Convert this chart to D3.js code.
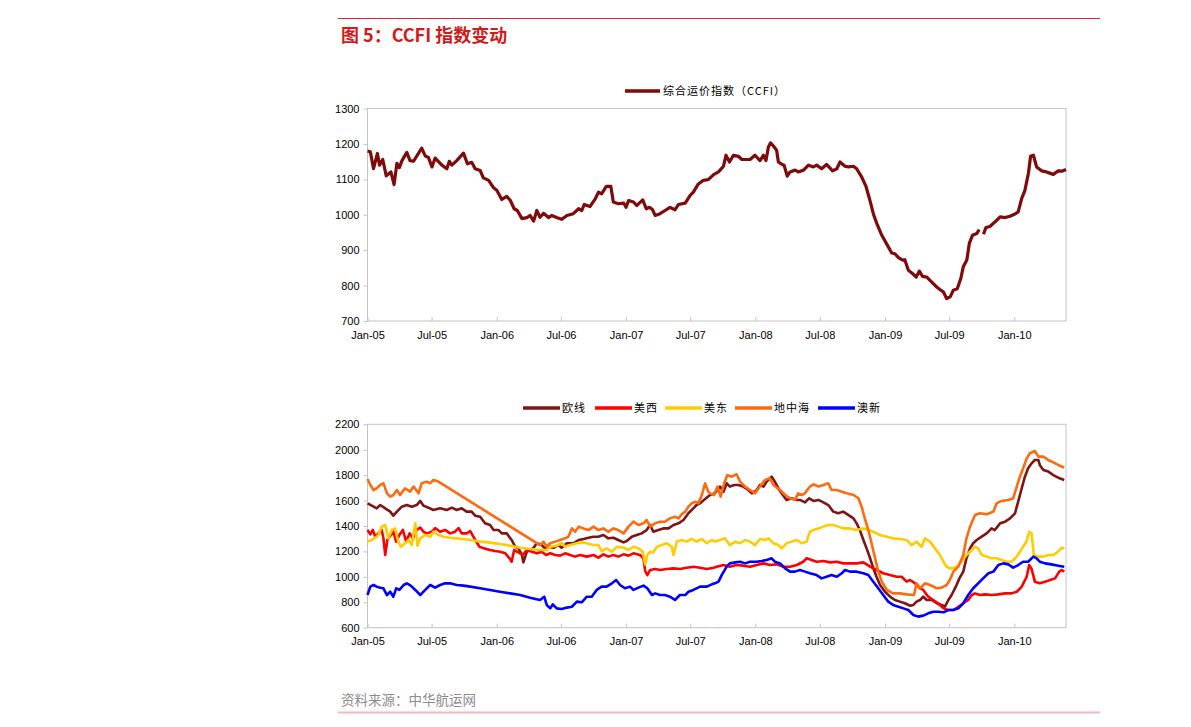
<!DOCTYPE html>
<html><head><meta charset="utf-8">
<script src="https://cdn.jsdelivr.net/npm/d3@7"></script>
<style>
body{margin:0;background:#fff;}
svg{display:block;}
text{font-family:"Liberation Sans",Arial,sans-serif;}
</style></head><body>
<svg id="c" width="1191" height="727"></svg>
<script>
// ---- data (x = days since 2005-01-01, y = index value) ----
const titleText = "图 5：CCFI 指数变动";
const sourceText = "资料来源：中华航运网";
const ccfiName = "综合运价指数（CCFI）";
const seriesNames = ["欧线","美西","美东","地中海","澳新"];
const topTicks = [700,800,900,1000,1100,1200,1300];
const bottomTicks = [600,800,1000,1200,1400,1600,1800,2000,2200];

const ccfi = [[0,1180],[8,1178],[17,1130],[28,1173],[34,1140],[43,1156],[53,1110],[66,1121],[75,1085],[83,1145],[90,1133],[97,1152],[111,1176],[120,1153],[130,1151],[153,1188],[163,1166],[172,1162],[182,1135],[191,1160],[210,1140],[224,1130],[231,1151],[238,1140],[252,1153],[271,1174],[282,1144],[294,1148],[304,1130],[318,1125],[327,1104],[342,1097],[356,1076],[365,1069],[379,1043],[393,1052],[403,1041],[414,1017],[423,1012],[436,989],[450,992],[459,998],[469,982],[478,1012],[487,993],[497,1004],[511,992],[520,998],[534,992],[548,987],[563,998],[581,1003],[596,1017],[605,1012],[612,1029],[628,1023],[643,1045],[652,1064],[661,1059],[674,1080],[687,1080],[694,1036],[708,1031],[723,1033],[730,1021],[737,1040],[751,1036],[760,1026],[777,1042],[787,1017],[796,1021],[805,1014],[812,998],[826,1003],[840,1012],[854,1021],[868,1014],[878,1029],[897,1033],[911,1055],[920,1064],[934,1087],[948,1097],[962,1099],[978,1114],[991,1121],[1005,1137],[1012,1168],[1022,1149],[1033,1168],[1047,1165],[1057,1156],[1080,1156],[1094,1168],[1108,1153],[1118,1168],[1125,1153],[1132,1192],[1138,1203],[1146,1194],[1155,1182],[1160,1149],[1169,1143],[1176,1140],[1185,1109],[1193,1121],[1207,1126],[1216,1121],[1231,1126],[1245,1140],[1259,1135],[1268,1140],[1282,1130],[1296,1142],[1313,1124],[1325,1130],[1334,1149],[1348,1137],[1358,1135],[1372,1137],[1381,1130],[1395,1107],[1407,1081],[1417,1046],[1428,1003],[1438,975],[1452,942],[1466,917],[1480,892],[1489,890],[1499,879],[1511,872],[1517,873],[1527,843],[1541,832],[1549,824],[1558,841],[1567,826],[1579,824],[1593,810],[1607,796],[1616,789],[1626,782],[1635,763],[1645,768],[1654,787],[1665,791],[1675,820],[1682,853],[1692,872],[1699,919],[1708,942],[1720,947],[1727,958],[1733,null],[1739,945],[1746,964],[1757,967],[1772,980],[1786,994],[1800,992],[1814,996],[1828,1002],[1837,1008],[1847,1046],[1856,1069],[1866,1118],[1872,1165],[1880,1168],[1889,1135],[1903,1124],[1917,1121],[1936,1114],[1950,1124],[1960,1123],[1972,1128]];

const euro = [[0,1578],[12,1560],[26,1539],[36,1565],[50,1539],[64,1513],[73,1481],[83,1513],[97,1552],[111,1565],[125,1552],[139,1565],[149,1597],[158,1560],[172,1544],[186,1526],[205,1539],[224,1526],[238,1544],[252,1526],[266,1539],[280,1513],[294,1513],[304,1481],[318,1473],[332,1421],[346,1408],[356,1368],[370,1368],[379,1342],[393,1342],[407,1290],[417,1237],[426,1224],[436,1172],[440,1114],[450,1198],[459,1211],[469,1229],[478,1264],[492,1250],[501,1224],[511,1237],[525,1229],[539,1250],[548,1229],[563,1264],[581,1264],[596,1290],[610,1298],[624,1308],[638,1316],[652,1316],[666,1329],[680,1303],[694,1308],[708,1290],[723,1271],[732,1282],[746,1316],[760,1329],[774,1342],[788,1368],[798,1408],[807,1355],[821,1368],[835,1381],[850,1381],[864,1408],[878,1421],[892,1447],[906,1500],[920,1539],[929,1565],[939,1578],[953,1612],[967,1644],[981,1657],[995,1710],[1005,1670],[1014,1736],[1023,1710],[1035,1723],[1047,1723],[1061,1710],[1075,1683],[1085,1657],[1099,1683],[1108,1723],[1118,1710],[1127,1749],[1141,1788],[1150,1749],[1160,1697],[1169,1657],[1183,1605],[1197,1618],[1212,1605],[1221,1605],[1235,1586],[1247,1618],[1259,1597],[1273,1605],[1287,1586],[1301,1565],[1315,1513],[1329,1500],[1343,1513],[1357,1487],[1372,1460],[1381,1421],[1390,1368],[1400,1290],[1409,1224],[1419,1146],[1428,1067],[1437,1001],[1447,936],[1461,883],[1475,844],[1489,818],[1503,805],[1517,792],[1532,773],[1541,779],[1550,805],[1560,818],[1569,844],[1579,818],[1593,818],[1607,792],[1621,779],[1630,765],[1640,818],[1649,857],[1661,923],[1671,988],[1682,1041],[1691,1146],[1701,1224],[1710,1264],[1720,1290],[1734,1316],[1748,1342],[1762,1381],[1771,1368],[1786,1421],[1800,1434],[1814,1460],[1828,1500],[1837,1591],[1847,1697],[1856,1788],[1865,1854],[1875,1893],[1884,1919],[1894,1919],[1898,1880],[1908,1841],[1922,1828],[1936,1801],[1950,1780],[1967,1762]];

const usWest = [[0,1369],[8,1334],[15,1369],[22,1316],[31,1342],[40,1369],[45,1303],[50,1172],[56,1290],[66,1329],[73,1355],[81,1277],[90,1329],[100,1369],[109,1277],[119,1342],[128,1303],[139,1369],[149,1387],[158,1355],[167,1342],[182,1355],[191,1384],[205,1355],[219,1369],[233,1342],[247,1355],[257,1384],[266,1342],[280,1342],[290,1360],[304,1290],[316,1237],[329,1224],[346,1211],[360,1203],[374,1198],[389,1185],[401,1146],[407,1119],[414,1211],[426,1193],[438,1172],[450,1211],[464,1198],[478,1185],[492,1198],[504,1172],[516,1185],[530,1172],[544,1167],[558,1185],[572,1172],[586,1159],[600,1172],[619,1159],[638,1172],[652,1151],[666,1177],[680,1159],[694,1172],[708,1159],[723,1177],[737,1167],[751,1185],[769,1172],[779,1146],[784,1046],[790,1014],[798,1054],[812,1062],[826,1054],[845,1062],[864,1067],[882,1062],[901,1072],[920,1080],[939,1072],[958,1062],[977,1072],[986,1080],[1005,1093],[1023,1080],[1042,1093],[1061,1088],[1080,1080],[1099,1093],[1118,1106],[1136,1093],[1155,1098],[1174,1080],[1193,1080],[1212,1093],[1230,1119],[1240,1146],[1254,1133],[1268,1119],[1287,1125],[1306,1114],[1325,1119],[1343,1106],[1362,1106],[1381,1106],[1400,1114],[1419,1080],[1437,1054],[1456,1028],[1475,1014],[1494,1001],[1508,1001],[1522,962],[1532,975],[1546,949],[1560,910],[1569,897],[1583,844],[1597,818],[1611,792],[1626,752],[1640,739],[1654,739],[1668,765],[1682,792],[1696,818],[1706,857],[1715,870],[1729,857],[1743,862],[1762,857],[1781,862],[1800,870],[1818,870],[1833,883],[1847,923],[1861,1001],[1868,1093],[1875,1062],[1884,962],[1898,949],[1913,962],[1927,975],[1941,988],[1953,1041],[1960,1054],[1967,1041]];

const usEast = [[0,1277],[12,1290],[22,1308],[31,1329],[40,1395],[50,1408],[59,1303],[69,1369],[78,1381],[87,1277],[94,1237],[106,1264],[116,1290],[125,1250],[135,1421],[141,1245],[149,1303],[163,1329],[177,1316],[186,1355],[200,1329],[215,1316],[233,1308],[252,1303],[271,1298],[290,1290],[318,1277],[346,1269],[374,1258],[403,1245],[431,1229],[459,1219],[487,1211],[506,1211],[516,1237],[534,1245],[548,1264],[558,1237],[572,1250],[591,1264],[605,1271],[619,1264],[638,1250],[652,1250],[661,1203],[675,1224],[690,1198],[704,1237],[723,1229],[737,1211],[751,1237],[765,1224],[777,1198],[784,1098],[790,1172],[798,1198],[807,1193],[817,1237],[831,1250],[845,1264],[859,1237],[864,1172],[873,1277],[887,1290],[901,1277],[915,1298],[929,1277],[944,1298],[958,1264],[972,1290],[981,1277],[995,1290],[1009,1303],[1023,1250],[1038,1277],[1052,1264],[1066,1290],[1080,1277],[1094,1250],[1108,1298],[1122,1290],[1132,1303],[1146,1264],[1160,1250],[1169,1224],[1183,1264],[1197,1277],[1212,1290],[1226,1264],[1240,1277],[1249,1355],[1259,1368],[1273,1381],[1287,1395],[1301,1408],[1315,1408],[1329,1395],[1343,1381],[1362,1381],[1381,1368],[1400,1381],[1414,1368],[1428,1355],[1447,1329],[1466,1316],[1484,1303],[1503,1298],[1522,1290],[1536,1250],[1550,1277],[1564,1237],[1574,1303],[1588,1277],[1602,1224],[1616,1172],[1626,1119],[1635,1080],[1644,1067],[1654,1067],[1663,1080],[1677,1119],[1691,1172],[1706,1211],[1715,1237],[1724,1224],[1734,1172],[1748,1159],[1762,1146],[1776,1146],[1790,1133],[1804,1119],[1818,1119],[1833,1159],[1842,1198],[1851,1237],[1861,1282],[1868,1355],[1875,1342],[1881,1172],[1894,1159],[1908,1159],[1922,1172],[1936,1172],[1950,1198],[1960,1229],[1967,1224]];

const med = [[0,1770],[8,1723],[17,1683],[26,1697],[36,1723],[45,1736],[55,1657],[64,1631],[73,1644],[83,1683],[92,1644],[106,1697],[120,1670],[130,1710],[144,1657],[153,1736],[167,1749],[177,1736],[186,1762],[196,1754],[200,1749],[487,1250],[497,1277],[506,1237],[516,1264],[530,1277],[544,1290],[558,1303],[567,1316],[577,1381],[586,1355],[596,1395],[610,1381],[624,1368],[638,1395],[652,1368],[666,1381],[680,1355],[694,1381],[708,1368],[723,1342],[737,1395],[751,1434],[765,1408],[779,1421],[788,1447],[798,1395],[812,1421],[826,1434],[840,1434],[854,1460],[868,1473],[878,1460],[887,1492],[897,1513],[906,1552],[915,1578],[925,1591],[934,1578],[944,1644],[953,1736],[962,1670],[967,1657],[978,1644],[988,1710],[997,1631],[1007,1736],[1016,1801],[1028,1788],[1042,1807],[1052,1749],[1066,1710],[1080,1683],[1094,1657],[1108,1710],[1122,1762],[1136,1775],[1146,1723],[1155,1702],[1165,1683],[1179,1644],[1193,1618],[1207,1605],[1216,1657],[1226,1644],[1235,1657],[1249,1710],[1259,1728],[1273,1710],[1287,1723],[1301,1736],[1310,1683],[1325,1683],[1339,1670],[1353,1657],[1372,1644],[1386,1618],[1395,1552],[1404,1460],[1414,1368],[1423,1264],[1433,1146],[1442,1041],[1452,962],[1466,897],[1484,870],[1503,870],[1522,862],[1543,857],[1550,949],[1560,910],[1574,949],[1588,936],[1607,910],[1621,915],[1635,936],[1644,975],[1654,1041],[1668,1080],[1682,1172],[1691,1303],[1701,1395],[1715,1487],[1729,1500],[1748,1492],[1767,1513],[1776,1578],[1790,1597],[1809,1605],[1823,1618],[1833,1710],[1842,1788],[1851,1854],[1861,1932],[1870,1972],[1884,1990],[1894,1946],[1908,1946],[1922,1919],[1936,1901],[1950,1880],[1967,1859]];

const ausNz = [[0,857],[8,923],[17,936],[26,923],[36,915],[45,910],[55,857],[64,883],[73,844],[81,910],[90,897],[102,936],[111,949],[122,931],[135,897],[149,857],[163,897],[177,936],[191,915],[205,936],[219,949],[233,949],[252,936],[271,931],[290,923],[318,910],[346,897],[374,883],[403,870],[431,857],[459,836],[487,818],[499,844],[506,779],[516,752],[523,784],[534,752],[548,747],[563,758],[577,765],[591,805],[605,800],[619,844],[633,844],[647,897],[661,923],[675,923],[690,949],[702,975],[713,936],[727,910],[741,923],[751,897],[765,915],[779,931],[790,910],[803,857],[812,870],[826,857],[840,857],[854,844],[868,818],[882,857],[897,857],[906,883],[920,897],[939,923],[958,923],[972,941],[981,949],[991,962],[1000,1014],[1014,1080],[1023,1106],[1038,1114],[1052,1119],[1066,1106],[1080,1119],[1099,1119],[1113,1125],[1127,1133],[1141,1146],[1150,1119],[1165,1106],[1179,1067],[1193,1041],[1207,1041],[1221,1054],[1235,1041],[1249,1028],[1268,1014],[1282,988],[1296,1001],[1310,1014],[1325,1001],[1339,1028],[1348,1054],[1362,1041],[1381,1041],[1400,1028],[1414,1014],[1428,962],[1442,910],[1456,857],[1470,805],[1484,779],[1499,765],[1513,752],[1527,739],[1541,700],[1555,687],[1569,695],[1583,713],[1597,726],[1611,726],[1626,721],[1640,739],[1654,739],[1668,752],[1682,792],[1696,857],[1710,910],[1724,949],[1738,988],[1753,1028],[1767,1041],[1781,1093],[1795,1106],[1809,1098],[1823,1072],[1837,1093],[1851,1119],[1865,1119],[1880,1159],[1889,1146],[1898,1119],[1913,1106],[1931,1098],[1950,1088],[1967,1080]];

const bottomSeries = [euro, usWest, usEast, med, ausNz];
const bottomColors = ["#7f1414","#ff0000","#ffcc00","#ff6a10","#0000ff"];

// ---- drawing ----
const svg = d3.select("#c");
const t0 = new Date(2005,0,1);
const toDate = d => d3.timeDay.offset(t0, d);
const endDate = toDate(1972);
const X0 = 367.5, X1 = 1066;

const x = d3.scaleTime().domain([t0, endDate]).range([X0, X1]);
const xTicks = d3.timeMonth.range(t0, endDate, 6);
const fmt = d3.timeFormat("%b-%y");

// header
svg.append("line").attr("x1",338).attr("x2",1100).attr("y1",18.5).attr("y2",18.5)
  .attr("stroke","#d42b2b").attr("stroke-width",1);
svg.append("text").attr("x",341).attr("y",42).text(titleText)
  .attr("fill","#d11a1a").style("font-family","'Noto Sans CJK SC','Liberation Sans',sans-serif")
  .style("font-weight","bold").style("font-size","18px");
svg.append("text").attr("x",341).attr("y",705).text(sourceText)
  .attr("fill","#8c8c8c").style("font-family","'Noto Sans CJK SC',sans-serif").style("font-size","13.5px");
svg.append("line").attr("x1",338).attr("x2",1100).attr("y1",712.5).attr("y2",712.5)
  .attr("stroke","#f3b9c3").attr("stroke-width",2);

function panel(yDomain, yTop, yBot, tickVals){
  const y = d3.scaleLinear().domain(yDomain).range([yBot, yTop]);
  const g = svg.append("g");
  g.append("rect").attr("x",X0).attr("y",yTop).attr("width",X1-X0).attr("height",yBot-yTop)
    .attr("fill","none").attr("stroke","#c4c4c4").attr("stroke-width",1);
  const ya = g.append("g").attr("transform",`translate(${X0},0)`)
    .call(d3.axisLeft(y).tickValues(tickVals).tickFormat(d3.format("d")).tickSize(4).tickPadding(4));
  ya.select(".domain").remove();
  ya.selectAll("line").attr("stroke","#c4c4c4");
  ya.selectAll("text").style("font-size","11px").attr("fill","#000").style("font-family","'Liberation Sans',Arial,sans-serif");
  const xa = g.append("g").attr("transform",`translate(0,${yBot})`)
    .call(d3.axisBottom(x).tickValues(xTicks).tickFormat(fmt).tickSizeInner(-4).tickSizeOuter(0).tickPadding(10));
  xa.select(".domain").remove();
  xa.selectAll("line").attr("stroke","#c4c4c4");
  xa.selectAll("text").style("font-size","11px").attr("fill","#000").style("font-family","'Liberation Sans',Arial,sans-serif");
  return y;
}

// top panel
const yTop = panel([700,1300], 108.5, 321, topTicks);
const line1 = d3.line().defined(d => d[1] !== null).x(d => x(toDate(d[0]))).y(d => yTop(d[1]));
svg.append("path").datum(ccfi).attr("d", line1).attr("fill","none")
  .attr("stroke","#7f0a0a").attr("stroke-width",3.2).attr("stroke-linejoin","round");
// top legend
svg.append("line").attr("x1",625).attr("x2",660).attr("y1",91).attr("y2",91)
  .attr("stroke","#7f0a0a").attr("stroke-width",3.5);
svg.append("text").attr("x",663).attr("y",95).text(ccfiName)
  .style("font-family","'Noto Sans CJK SC',sans-serif").style("font-size","11px")
  .style("letter-spacing","1px").attr("fill","#000");

// bottom panel
const yBot = panel([600,2200], 424.3, 627.7, bottomTicks);
const line2 = d3.line().x(d => x(toDate(d[0]))).y(d => yBot(d[1]));
bottomSeries.forEach((s,i) => {
  svg.append("path").datum(s).attr("d", line2).attr("fill","none")
    .attr("stroke", bottomColors[i]).attr("stroke-width",2.6).attr("stroke-linejoin","round");
});
// bottom legend
const legX = [523, 595, 665, 735, 818];
seriesNames.forEach((n,i) => {
  svg.append("line").attr("x1",legX[i]).attr("x2",legX[i]+37).attr("y1",408).attr("y2",408)
    .attr("stroke",bottomColors[i]).attr("stroke-width",3.5);
  svg.append("text").attr("x",legX[i]+39).attr("y",412).text(n)
    .style("font-family","'Noto Sans CJK SC',sans-serif").style("font-size","11px")
    .style("letter-spacing","1px").attr("fill","#000");
});
</script>
</body></html>
